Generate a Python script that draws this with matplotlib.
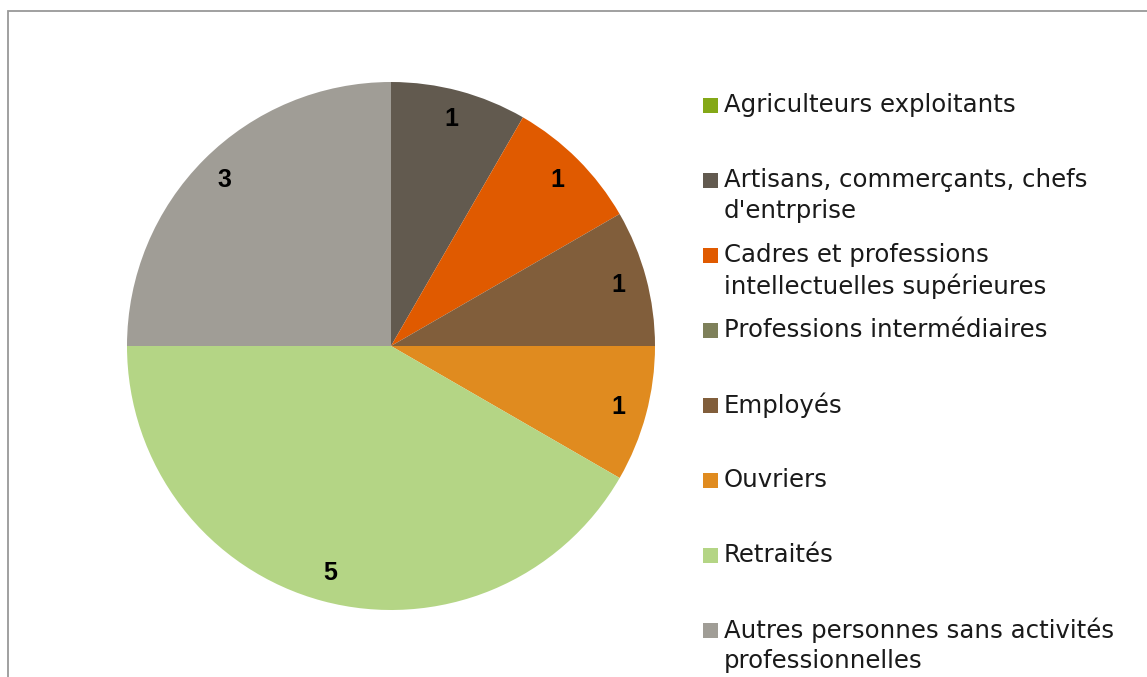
import matplotlib
matplotlib.use("Agg")
import matplotlib.pyplot as plt
from matplotlib.patches import Rectangle

categories = [
    "Agriculteurs exploitants",
    "Artisans, commerçants, chefs\nd'entrprise",
    "Cadres et professions\nintellectuelles supérieures",
    "Professions intermédiaires",
    "Employés",
    "Ouvriers",
    "Retraités",
    "Autres personnes sans activités\nprofessionnelles",
]
values = [0, 1, 1, 0, 1, 1, 5, 3]
colors = ["#84A817", "#625A4F", "#E05A00", "#7E805A", "#815E3B", "#E08B1F", "#B4D585", "#A09D96"]

W, H = 1147, 677
fig = plt.figure(figsize=(W / 100, H / 100), dpi=100)

# chart border (cropped at right/bottom)
fig.patches.append(Rectangle((8 / W, -0.1), 1.2, (H - 11) / H + 0.1, transform=fig.transFigure,
                             fill=False, edgecolor="#999999", linewidth=1.3))

cx, cy, r = 391, 346, 264
ax = fig.add_axes([(cx - r) / W, (H - cy - r) / H, 2 * r / W, 2 * r / H])
total = sum(values)
wedges, texts, autotexts = ax.pie(
    values, colors=colors, startangle=90, counterclock=False,
    autopct=lambda p: "" if p < 0.5 else f"{round(p * total / 100):d}",
    pctdistance=0.89, wedgeprops=dict(linewidth=0),
    textprops=dict(fontsize=18, fontweight="bold", family="Liberation Sans", color="black"),
)
ax.set_xlim(-1, 1)
ax.set_ylim(-1, 1)
ax.set_aspect("equal")
ax.axis("off")

# legend
font = "DejaVu Sans"
y0 = 105
step = 75
for i, (lab, col) in enumerate(zip(categories, colors)):
    y = y0 + i * step
    fig.patches.append(Rectangle((703 / W, (H - y - 7.5) / H), 15 / W, 15 / H,
                                 transform=fig.transFigure, facecolor=col, edgecolor="none"))
    lines = lab.split("\n")
    for j, ln in enumerate(lines):
        fig.text(724 / W, (H - y - j * 31) / H, ln, fontsize=17.6, family=font,
                 color="#1a1a1a", va="center", ha="left")

fig.savefig("out.png", dpi=100)
